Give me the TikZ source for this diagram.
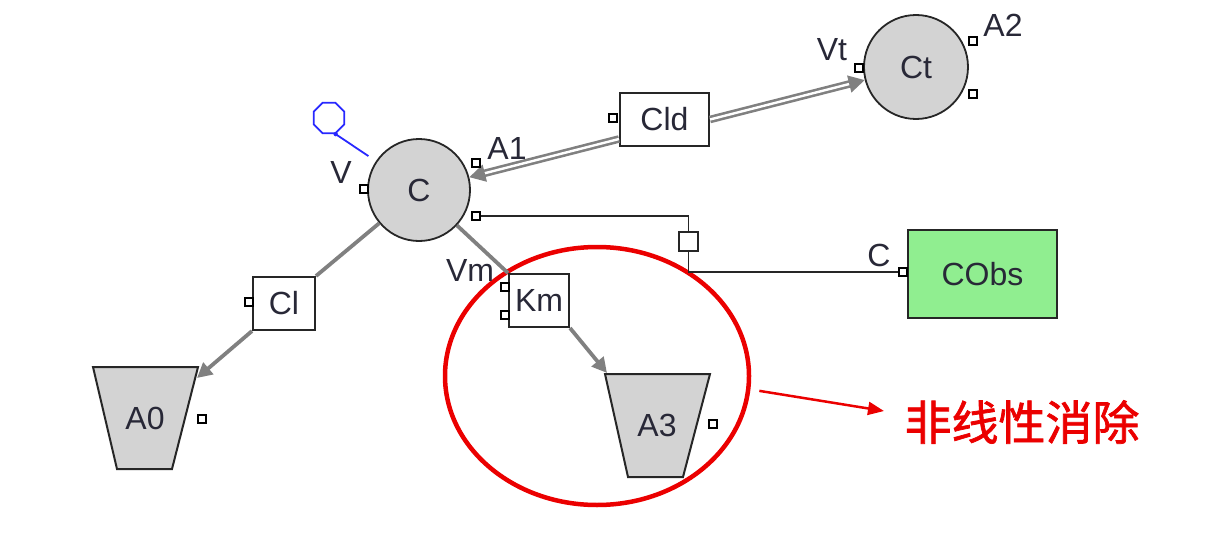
\documentclass[tikz,border=0pt]{standalone}
\usepackage{fontspec}
\setmainfont{Liberation Sans}
\newfontfamily\cjkb{Noto Sans CJK SC}[FakeBold=1.5]
\usetikzlibrary{arrows.meta,shapes.geometric,calc}
\definecolor{lg}{RGB}{211,211,211}
\definecolor{cg}{RGB}{128,128,128}
\definecolor{txt}{RGB}{40,40,55}
\definecolor{obsg}{RGB}{144,238,144}
\definecolor{myblue}{RGB}{40,40,255}
\definecolor{myred}{RGB}{235,0,0}
\begin{document}
\begin{tikzpicture}[x=1pt,y=-1pt,
  every node/.style={font=\fontsize{32}{36}\selectfont, text=txt},
  statenode/.style={circle, draw=black!85, line width=1.8, fill=lg, minimum size=102, inner sep=0},
  boxnode/.style={rectangle, draw=black!85, line width=2, fill=white, inner sep=0},
  portnode/.style={rectangle, draw=black, line width=1.6, fill=white, minimum size=8, inner sep=0},
  lbl/.style={inner sep=0},
  flow/.style={draw=cg, line width=3.8},
  flowarrow/.style={flow, -{Triangle[length=15,width=15]}},
  dflow/.style={draw=cg, line width=2.6, double=white, double distance=2.4, -{Triangle[length=16,width=17]}},
  link/.style={draw=black!85, line width=1.8},
  bucket/.style={draw=black!85, line width=2, fill=lg}]
\useasboundingbox (0,0) rectangle (1213,543);

% red highlight (behind)
\node[ellipse, draw=myred, line width=4.5, minimum width=304, minimum height=258, inner sep=0] (el) at (597,376) {};

% buckets
\draw[bucket] (93,367) -- (198,367) -- (172,469) -- (117,469) -- cycle;
\node[lbl] (A0) at (145,418) {A0};
\coordinate (A0in) at (197,378);
\draw[bucket] (605,374) -- (710,374) -- (683,477) -- (628,477) -- cycle;
\node[lbl] (A3) at (657,425) {A3};
\coordinate (A3in) at (607,373);

% main nodes
\node[statenode] (C) at (419,190) {C};
\node[statenode, minimum size=104] (Ct) at (916,67) {Ct};
\node[boxnode, minimum width=89, minimum height=53] (Cld) at (664.5,119.5) {Cld};
\node[boxnode, minimum width=62, minimum height=53] (Cl) at (284,303.5) {Cl};
\node[boxnode, minimum width=60, minimum height=53] (Km) at (539,300.5) {Km};
\node[boxnode, fill=obsg, minimum width=149, minimum height=88] (COBS) at (982.5,274) {CObs};

% blue pin
\node[regular polygon, regular polygon sides=8, draw=myblue, line width=1.8, minimum size=33, inner sep=0] (pin) at (329,118) {};
\fill[myblue] (pin.corner 6) circle (2.2);
\draw[myblue, line width=1.8, shorten >=9] (pin.corner 6) -- (C);

% connectors
\draw[flow] (C) -- (Cl.north east);
\draw[flowarrow] (Cl.south west) -- (A0in);
\draw[flow] (C) -- (Km.north west);
\draw[flowarrow] (Km.south east) -- (A3in);
\draw[dflow] ([yshift=8pt]Cld.south west) -- (C);
\draw[dflow] (Cld.east) -- (Ct);

% ports
\node[portnode] (pCv) at (364,189) {};
\node[portnode] (pCa) at (476,163) {};
\node[portnode] (pCo) at (476,216) {};
\node[portnode] (pCtv) at (859,68) {};
\node[portnode] (pCta) at (973,41) {};
\node[portnode] (pCto) at (973,94) {};
\node[portnode] (pCld) at (613,118) {};
\node[portnode] (pCl) at (249,302) {};
\node[portnode] (pKm1) at (505,287) {};
\node[portnode] (pKm2) at (505,315) {};
\node[portnode] (pObs) at (903,272) {};
\node[portnode] (pA0) at (202,419) {};
\node[portnode] (pA3) at (713,424) {};

% observation link
\node[rectangle, draw=black!85, line width=1.8, fill=white, minimum size=19, inner sep=0] (sq) at (688.5,241.5) {};
\draw[link] (pCo.east) -| (sq.north);
\draw[link] (sq.south) |- (pObs.west);

% labels
\node[lbl] (lV) at (341,172) {V};
\node[lbl] (lA1) at (507,148) {A1};
\node[lbl] (lVt) at (832,50) {Vt};
\node[lbl] (lA2) at (1003,25) {A2};
\node[lbl] (lVm) at (470,270) {Vm};
\node[lbl] (lC) at (879,255) {C};

% annotation
\node[lbl, text=myred, font=\cjkb\fontsize{47}{50}\selectfont] (note) at (1022,422) {非线性消除};
\coordinate (noteTip) at (884,411);
\draw[myred, line width=2.5, shorten <=9, -{Triangle[length=16,width=13]}] (el.-5) -- (noteTip);
\end{tikzpicture}
\end{document}
